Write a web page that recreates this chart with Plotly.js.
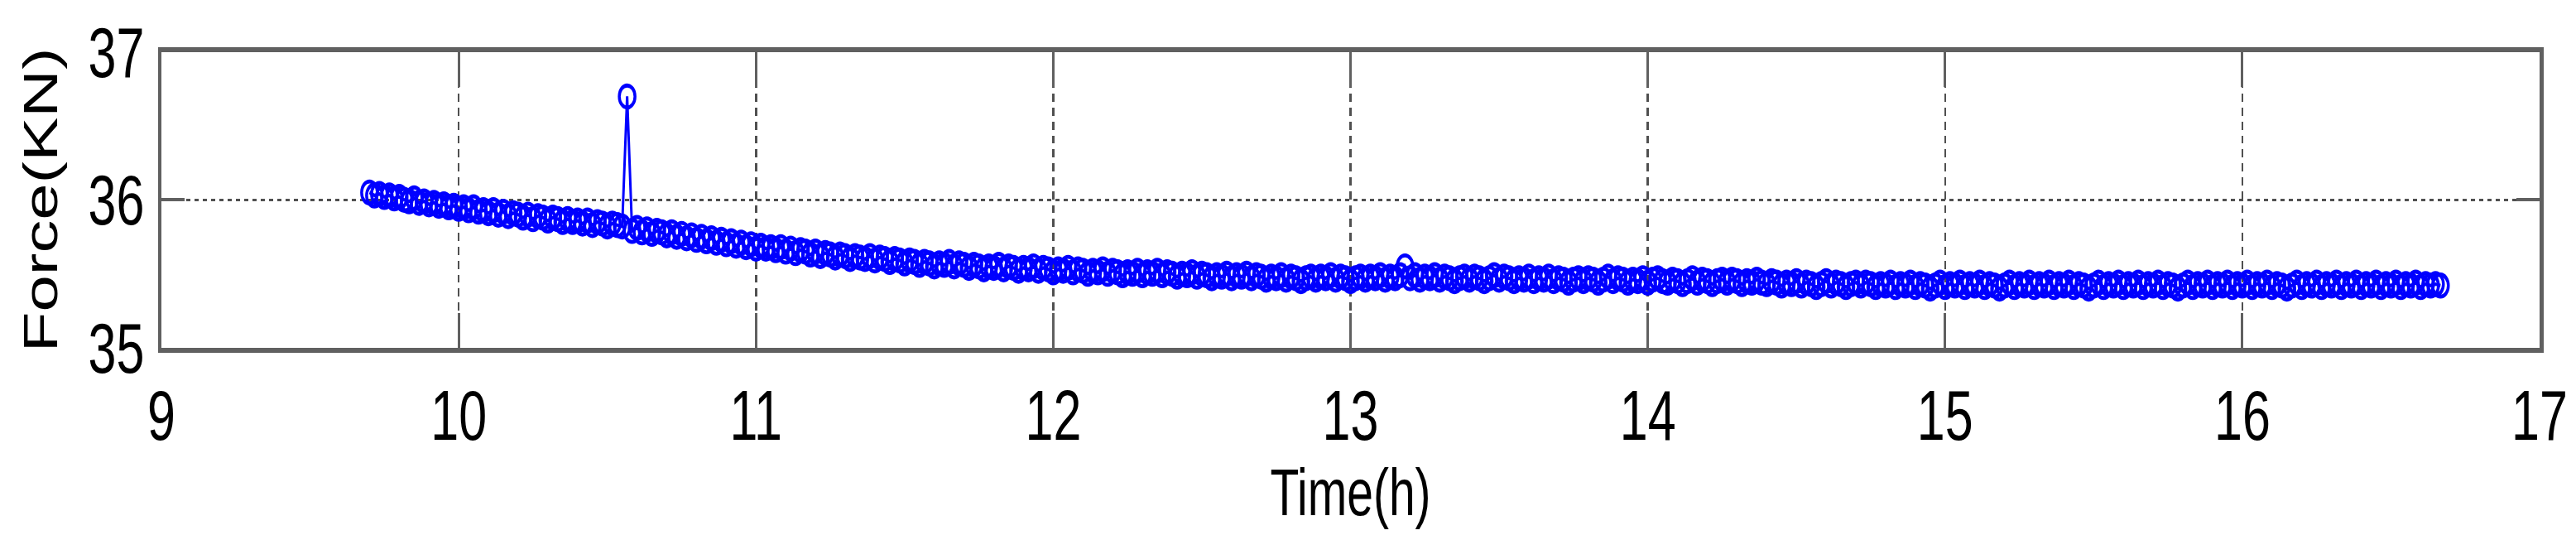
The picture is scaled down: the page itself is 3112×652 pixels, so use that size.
<!DOCTYPE html>
<html>
<head>
<meta charset="utf-8">
<script src="https://cdn.plot.ly/plotly-3.0.1.min.js"></script>
<style>
  html, body { margin: 0; padding: 0; background: #ffffff; overflow: hidden; }
  #wrap { width: 3112px; height: 652px; overflow: hidden; }
  #chart { width: 3112px; height: 466px; transform-origin: 0 0; }
</style>
</head>
<body>
<div id="wrap"><div id="chart"></div></div>
<script>
// ---- data ----
// logger samples: first sample time (h) and sampling interval (minutes)
const startHour = 9.70;
const sampleMinutes = 1;

// Force (KN), one value per minute (rows of 20 samples)
const forceKN = [
  36.05, 36.03, 36.04, 36.02, 36.03, 36.01, 36.02, 36.00, 35.99, 36.01, 35.98, 35.99, 35.97, 35.98, 35.96, 35.97, 35.95, 35.96, 35.94, 35.95,
  35.93, 35.95, 35.92, 35.93, 35.91, 35.93, 35.90, 35.92, 35.89, 35.91, 35.90, 35.88, 35.90, 35.87, 35.89, 35.88, 35.86, 35.88, 35.87, 35.85,
  35.87, 35.85, 35.86, 35.84, 35.86, 35.83, 35.85, 35.84, 35.82, 35.84, 35.83, 35.82, 36.70, 35.79, 35.81, 35.78, 35.80, 35.77, 35.79, 35.78,
  35.76, 35.78, 35.75, 35.77, 35.74, 35.76, 35.73, 35.75, 35.72, 35.74, 35.71, 35.73, 35.70, 35.72, 35.69, 35.71, 35.68, 35.70, 35.67, 35.69,
  35.67, 35.68, 35.66, 35.68, 35.65, 35.67, 35.64, 35.66, 35.65, 35.63, 35.65, 35.62, 35.64, 35.63, 35.61, 35.63, 35.62, 35.60, 35.62, 35.61,
  35.60, 35.62, 35.59, 35.61, 35.60, 35.58, 35.60, 35.59, 35.57, 35.59, 35.58, 35.56, 35.58, 35.57, 35.55, 35.57, 35.56, 35.58, 35.55, 35.57,
  35.56, 35.54, 35.56, 35.55, 35.53, 35.55, 35.54, 35.56, 35.53, 35.55, 35.54, 35.52, 35.54, 35.53, 35.55, 35.52, 35.54, 35.53, 35.51, 35.53,
  35.52, 35.54, 35.51, 35.53, 35.52, 35.50, 35.52, 35.51, 35.53, 35.50, 35.52, 35.51, 35.49, 35.51, 35.50, 35.52, 35.49, 35.51, 35.50, 35.52,
  35.49, 35.51, 35.50, 35.48, 35.50, 35.49, 35.51, 35.48, 35.50, 35.49, 35.47, 35.49, 35.48, 35.50, 35.47, 35.49, 35.48, 35.50, 35.47, 35.49,
  35.48, 35.46, 35.48, 35.47, 35.49, 35.46, 35.48, 35.47, 35.45, 35.47, 35.48, 35.46, 35.48, 35.47, 35.49, 35.46, 35.48, 35.47, 35.45, 35.47,
  35.48, 35.46, 35.48, 35.47, 35.49, 35.46, 35.48, 35.47, 35.49, 35.55, 35.47, 35.49, 35.46, 35.48, 35.47, 35.49, 35.46, 35.48, 35.47, 35.45,
  35.47, 35.48, 35.46, 35.48, 35.47, 35.45, 35.47, 35.49, 35.46, 35.48, 35.47, 35.45, 35.47, 35.46, 35.48, 35.45, 35.47, 35.46, 35.48, 35.45,
  35.47, 35.46, 35.44, 35.46, 35.47, 35.45, 35.47, 35.46, 35.44, 35.46, 35.48, 35.45, 35.47, 35.46, 35.44, 35.46, 35.45, 35.47, 35.44, 35.46,
  35.47, 35.45, 35.44, 35.46, 35.45, 35.43, 35.45, 35.47, 35.44, 35.46, 35.45, 35.43, 35.45, 35.46, 35.44, 35.46, 35.45, 35.43, 35.45, 35.44,
  35.46, 35.44, 35.43, 35.45, 35.44, 35.42, 35.44, 35.43, 35.45, 35.42, 35.44, 35.43, 35.41, 35.43, 35.45, 35.42, 35.44, 35.43, 35.41, 35.43,
  35.44, 35.42, 35.44, 35.43, 35.41, 35.43, 35.42, 35.44, 35.41, 35.43, 35.42, 35.44, 35.41, 35.43, 35.42, 35.40, 35.42, 35.44, 35.41, 35.43,
  35.42, 35.44, 35.41, 35.43, 35.42, 35.44, 35.41, 35.43, 35.42, 35.40, 35.42, 35.44, 35.41, 35.43, 35.42, 35.44, 35.41, 35.43, 35.42, 35.44,
  35.41, 35.43, 35.42, 35.44, 35.41, 35.43, 35.42, 35.40, 35.42, 35.44, 35.41, 35.43, 35.42, 35.44, 35.41, 35.43, 35.42, 35.44, 35.41, 35.43,
  35.42, 35.44, 35.41, 35.43, 35.42, 35.40, 35.42, 35.44, 35.41, 35.43, 35.42, 35.44, 35.41, 35.43, 35.42, 35.44, 35.41, 35.43, 35.42, 35.44,
  35.41, 35.43, 35.42, 35.44, 35.41, 35.43, 35.42, 35.40, 35.42, 35.44, 35.41, 35.43, 35.42, 35.44, 35.41, 35.43, 35.42, 35.44, 35.41, 35.43,
  35.42, 35.44, 35.41, 35.43, 35.42, 35.44, 35.41, 35.43, 35.42, 35.44, 35.41, 35.43, 35.42, 35.44, 35.41, 35.43, 35.42, 35.43, 35.42
];

// axes
const xRange = [9, 17];
const yRange = [35, 37];
const xTickVals = [9, 10, 11, 12, 13, 14, 15, 16, 17];
const yTickVals = [35, 36, 37];
const xTitle = 'Time(h)';
const yTitle = 'Force(KN)';

// ---- build ----
const timeH = forceKN.map((_, i) => startHour + i * sampleMinutes / 60);

// the reference is vertically stretched; draw at a smaller height, then stretch
const W = 3112, H = 466, S = 652 / H;
document.getElementById('chart').style.transform = 'scaleY(' + S + ')';

const FONT = 'Liberation Sans, Arial, Helvetica, sans-serif';
const frameColor = '#606060';
const gridColor = '#505050';

const trace = {
  x: timeH,
  y: forceKN,
  type: 'scatter',
  mode: 'lines+markers',
  line: { color: '#0000ff', width: 3 },
  marker: { symbol: 'circle-open', size: 19, color: '#0000ff', line: { width: 3.5, color: '#0000ff' } },
  hoverinfo: 'x+y'
};

const axisCommon = {
  showline: true, mirror: 'ticks', linecolor: frameColor, linewidth: 4.5,
  ticks: 'inside', ticklen: 30, tickwidth: 3, tickcolor: frameColor,
  showgrid: true, gridcolor: gridColor, gridwidth: 2.5,
  zeroline: false, automargin: false,
  tickfont: { family: FONT, size: 61, color: '#000000' }
};

const layout = {
  width: W, height: H,
  margin: { l: 195, r: 44, t: 45, b: 166, pad: 0 },
  paper_bgcolor: '#ffffff', plot_bgcolor: '#ffffff',
  showlegend: false,
  font: { family: FONT, color: '#000000' },
  xaxis: Object.assign({}, axisCommon, {
    range: xRange, tickmode: 'array', tickvals: xTickVals,
    griddash: '7px,5px',
    ticklabelstandoff: 2,
    title: { text: xTitle, font: { family: FONT, size: 57, color: '#000000' }, standoff: 4 }
  }),
  yaxis: Object.assign({}, axisCommon, {
    range: yRange, tickmode: 'array', tickvals: yTickVals,
    griddash: '5px,5px',
    ticklen: 28,
    ticklabelstandoff: 4,
    title: { text: yTitle, font: { family: FONT, size: 57, color: '#000000' }, standoff: 20 }
  })
};

Plotly.newPlot('chart', [trace], layout, { staticPlot: true, displayModeBar: false });
</script>
</body>
</html>
